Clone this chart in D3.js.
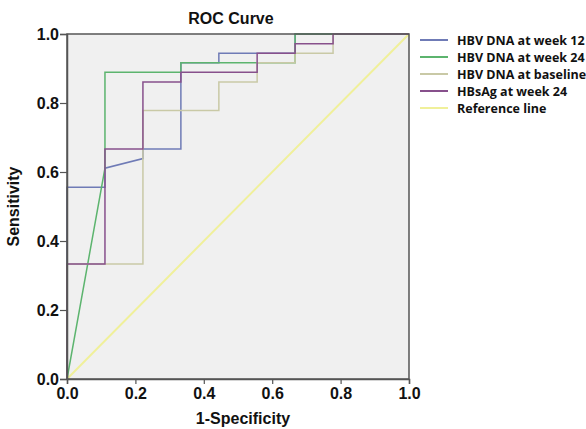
<!DOCTYPE html>
<html>
<head>
<meta charset="utf-8">
<script src="https://cdn.jsdelivr.net/npm/d3@7/dist/d3.min.js"></script>
<style>
  body { margin: 0; background: #fff; }
  .tick text { font-family: "Liberation Sans", Arial, sans-serif; font-weight: bold; font-size: 16px; fill: #111; }
</style>
</head>
<body>
<div id="roc-chart"></div>
<script>
// Series names (legend order)
let seriesNames = ['HBV DNA at week 12', 'HBV DNA at week 24', 'HBV DNA at baseline', 'HBsAg at week 24', 'Reference line'];

// ROC points: 1-specificity (fpr) and sensitivity (tpr)
let week12Fpr = [0, 0, 0.111, 0.111, 0.222, 0.222, 0.333, 0.333, 0.444, 0.444, 0.667, 0.667, 1];
let week12Tpr = [0, 0.556, 0.556, 0.611, 0.639, 0.667, 0.667, 0.917, 0.917, 0.944, 0.944, 1, 1];

let week24Fpr = [0, 0.111, 0.111, 0.333, 0.333, 0.667, 0.667, 1];
let week24Tpr = [0, 0.611, 0.889, 0.889, 0.917, 0.917, 1, 1];

let baselineFpr = [0, 0, 0.222, 0.222, 0.444, 0.444, 0.556, 0.556, 0.667, 0.667, 0.778, 0.778, 1];
let baselineTpr = [0, 0.333, 0.333, 0.778, 0.778, 0.861, 0.861, 0.917, 0.917, 0.944, 0.944, 1, 1];

let hbsagFpr = [0, 0, 0.111, 0.111, 0.222, 0.222, 0.333, 0.333, 0.556, 0.556, 0.667, 0.667, 0.778, 0.778, 1];
let hbsagTpr = [0, 0.333, 0.333, 0.667, 0.667, 0.861, 0.861, 0.889, 0.889, 0.944, 0.944, 0.972, 0.972, 1, 1];

let refFpr = [0, 1];
let refTpr = [0, 1];

let tickValues = [0, 0.2, 0.4, 0.6, 0.8, 1.0];

let colors = ['#6f7bb6', '#5cb46e', '#c9c9a6', '#87508c', '#f0f09a'];

let seriesFpr = [week12Fpr, week24Fpr, baselineFpr, hbsagFpr, refFpr];
let seriesTpr = [week12Tpr, week24Tpr, baselineTpr, hbsagTpr, refTpr];

// Set dimensions and margins
let margin = {
        top: 34,
        right: 177,
        bottom: 50,
        left: 67
    },
    width = 586 - margin.left - margin.right,
    height = 429 - margin.top - margin.bottom;

let x = d3.scaleLinear().domain([0, 1]).range([0, width]);
let y = d3.scaleLinear().domain([0, 1]).range([height, 0]);

let line = d3.line()
    .x(function (d) { return x(d[0]); })
    .y(function (d) { return y(d[1]); });

let svg = d3.select('#roc-chart')
    .append('svg')
    .attr('width', 586)
    .attr('height', 429)
    .append('g')
    .attr('transform', 'translate(' + margin.left + ',' + margin.top + ')');

// plot background
svg.append('rect')
    .attr('width', width)
    .attr('height', height)
    .attr('fill', '#f0f0f0');

// reference line first, curves on top
let order = [4, 0, 1, 2, 3];
order.forEach(function (i) {
    let pts = d3.zip(seriesFpr[i], seriesTpr[i]);
    svg.append('path')
        .datum(pts)
        .attr('fill', 'none')
        .attr('stroke', colors[i])
        .attr('stroke-width', i === 4 ? 2 : 1.5)
        .attr('d', line);
});

// frame
svg.append('rect')
    .attr('width', width)
    .attr('height', height)
    .attr('fill', 'none')
    .attr('stroke', '#555')
    .attr('stroke-width', 1.5);

// axes
let xAxis = svg.append('g')
    .attr('transform', 'translate(0,' + height + ')')
    .call(d3.axisBottom(x).tickValues(tickValues).tickFormat(d3.format('.1f')).tickSize(5).tickPadding(4));

let yAxis = svg.append('g')
    .call(d3.axisLeft(y).tickValues(tickValues).tickFormat(d3.format('.1f')).tickSize(7).tickPadding(1));

[xAxis, yAxis].forEach(function (a) {
    a.select('.domain').attr('stroke', '#555').attr('stroke-width', 1.5);
    a.selectAll('.tick line').attr('stroke', '#555').attr('stroke-width', 1.2);
});

// title and axis labels
svg.append('text')
    .attr('x', 164)
    .attr('y', -10)
    .attr('text-anchor', 'middle')
    .style('font-family', '"Liberation Sans", Arial, sans-serif')
    .style('font-weight', 'bold')
    .style('font-size', '16px')
    .attr('fill', '#111')
    .text('ROC Curve');

svg.append('text')
    .attr('x', 176)
    .attr('y', height + 45)
    .attr('text-anchor', 'middle')
    .style('font-family', '"Liberation Sans", Arial, sans-serif')
    .style('font-weight', 'bold')
    .style('font-size', '16px')
    .attr('fill', '#111')
    .text('1-Specificity');

svg.append('text')
    .attr('transform', 'translate(-48,' + (height / 2) + ') rotate(-90)')
    .attr('text-anchor', 'middle')
    .style('font-family', '"Liberation Sans", Arial, sans-serif')
    .style('font-weight', 'bold')
    .style('font-size', '16px')
    .attr('fill', '#111')
    .text('Sensitivity');

// legend
let legend = svg.append('g')
    .attr('transform', 'translate(' + (width + 11) + ',6)');

seriesNames.forEach(function (name, i) {
    let row = legend.append('g')
        .attr('transform', 'translate(0,' + (i * 17) + ')');
    row.append('line')
        .attr('x1', 0)
        .attr('x2', 28)
        .attr('y1', 0)
        .attr('y2', 0)
        .attr('stroke', colors[i])
        .attr('stroke-width', 2);
    row.append('text')
        .attr('x', 37)
        .attr('y', 4.5)
        .style('font-family', '"Open Sans", sans-serif')
        .style('font-weight', 'bold')
        .style('font-size', '12.5px')
        .attr('fill', '#111')
        .text(name);
});
</script>
</body>
</html>
